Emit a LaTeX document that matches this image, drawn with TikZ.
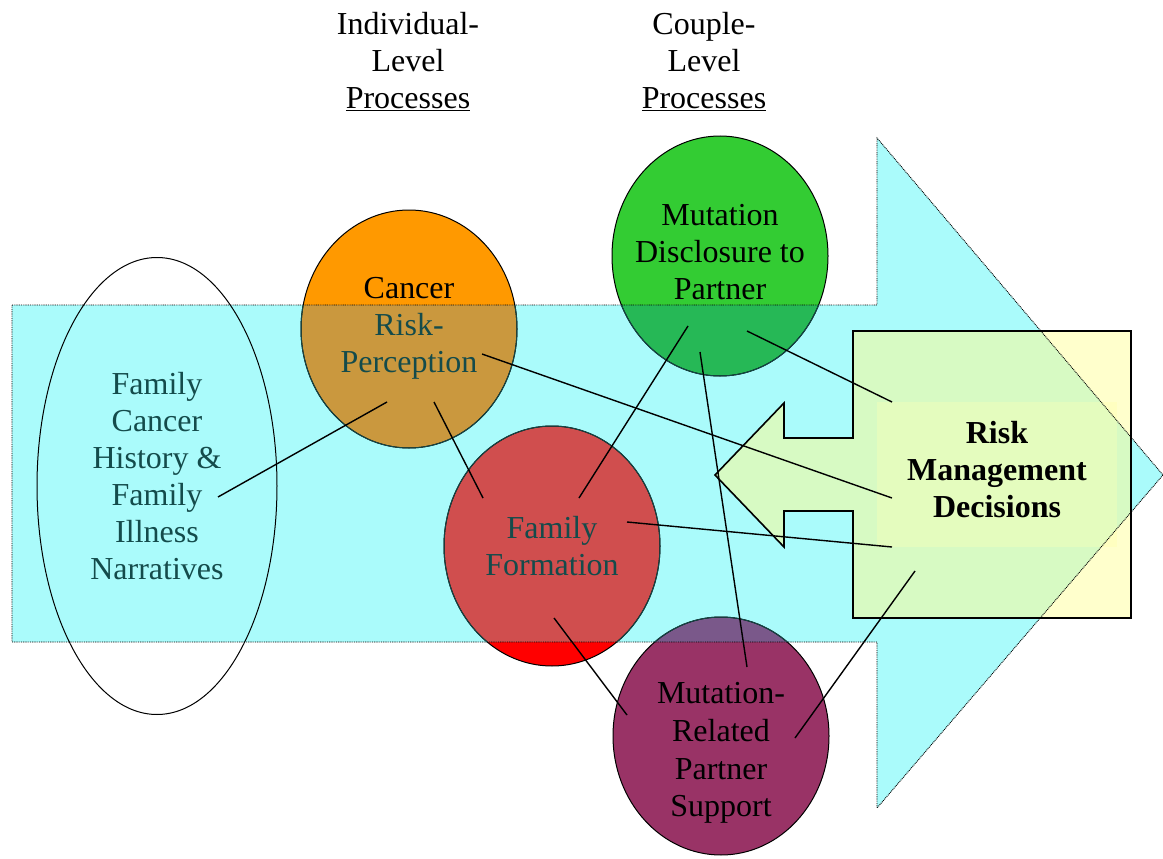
\documentclass[tikz,border=0pt]{standalone}
\usepackage{fontspec}
\setmainfont{Liberation Serif}
\usetikzlibrary{shapes.geometric,calc}
\definecolor{cyanfill}{RGB}{170,251,251}
\definecolor{orangeb}{RGB}{255,153,0}
\definecolor{orangein}{RGB}{202,152,62}
\definecolor{redb}{RGB}{255,0,0}
\definecolor{redin}{RGB}{208,78,78}
\definecolor{greenb}{RGB}{51,204,51}
\definecolor{greenin}{RGB}{38,184,86}
\definecolor{purpleb}{RGB}{153,51,102}
\definecolor{purplein}{RGB}{122,88,138}
\definecolor{yellowb}{RGB}{255,255,204}
\definecolor{yellowin}{RGB}{215,250,195}
\definecolor{yinner}{RGB}{255,255,192}
\definecolor{yinnerin}{RGB}{228,252,190}
\definecolor{tealtext}{RGB}{20,75,75}
\definecolor{tealline}{RGB}{20,70,70}
\begin{document}
\begin{tikzpicture}[x=1pt,y=-1pt,
  conn/.style={draw=black,line width=1.4pt},
  circ/.style={ellipse,inner sep=0pt,outer sep=0pt,draw=black,line width=1pt,minimum width=216pt,minimum height=238pt},
  lbl/.style={align=center,font=\fontsize{32}{37}\selectfont,inner sep=0pt},
  arrowline/.style={draw=black,line width=0.9pt,dash pattern=on 0.9pt off 0.9pt}]
\useasboundingbox (0,0) rectangle (1163,859);
\def\arrowpath{(12,305) -- (877,305) -- (877,138) -- (1163,475) -- (877,808) -- (877,642) -- (12,642) -- cycle}
\def\boxpath{(853,331) -- (1131,331) -- (1131,618) -- (853,618) -- (853,511) -- (784,511) -- (784,547) -- (715,475) -- (784,403) -- (784,438) -- (853,438) -- cycle}
\coordinate (cF) at (157,486);
\coordinate (cA) at (409,329);
\coordinate (cB) at (552,546);
\coordinate (cC) at (720,256);
\coordinate (cD) at (721,736);
% background arrow
\fill[cyanfill] \arrowpath;
% base fills
\fill[orangeb] (cA) ellipse [x radius=108pt, y radius=119pt];
\fill[redb] (cB) ellipse [x radius=108pt, y radius=120pt];
\fill[greenb] (cC) ellipse [x radius=108pt, y radius=120pt];
\fill[purpleb] (cD) ellipse [x radius=108pt, y radius=119pt];
\fill[yellowb] \boxpath;
\fill[yinner] (877,402) rectangle (1117,547);
% blended fills inside the arrow
\begin{scope}
  \clip \arrowpath;
  \fill[orangein] (cA) ellipse [x radius=108pt, y radius=119pt];
  \fill[redin] (cB) ellipse [x radius=108pt, y radius=120pt];
  \fill[greenin] (cC) ellipse [x radius=108pt, y radius=120pt];
  \fill[purplein] (cD) ellipse [x radius=108pt, y radius=119pt];
  \fill[yellowin] \boxpath;
  \fill[yinnerin] (877,402) rectangle (1117,547);
\end{scope}
\draw[arrowline] \arrowpath;
% shape nodes
\node[circ,minimum width=240pt,minimum height=457pt] (fch) at (cF) {};
\node[circ] (crp) at (cA) {};
\node[circ,minimum height=240pt] (ff) at (cB) {};
\node[circ,minimum height=240pt] (mdp) at (cC) {};
\node[circ] (mps) at (cD) {};
\begin{scope}
  \clip \arrowpath;
  \draw[tealline,line width=1pt] (cA) ellipse [x radius=108pt, y radius=119pt];
  \draw[tealline,line width=1pt] (cB) ellipse [x radius=108pt, y radius=120pt];
  \draw[tealline,line width=1pt] (cC) ellipse [x radius=108pt, y radius=120pt];
  \draw[tealline,line width=1pt] (cD) ellipse [x radius=108pt, y radius=119pt];
\end{scope}
\draw[black,line width=1.6pt] \boxpath;
% texts
\node[lbl] (hdrI) at (408,62) {Individual-\\Level\\\underline{Processes}};
\node[lbl] (hdrC) at (704,62) {Couple-\\Level\\\underline{Processes}};
\node[lbl,text=tealtext] (fchT) at (157,476) {Family\\Cancer\\History \&\\Family\\Illness\\Narratives};
\node[lbl] (crpT) at (409,328) {Cancer\\\textcolor{tealtext}{Risk-}\\\textcolor{tealtext}{Perception}};
\node[lbl,text=tealtext] (ffT) at (552,546) {Family\\Formation};
\node[lbl] (mdpT) at (720,252) {Mutation\\Disclosure to\\Partner};
\node[lbl,font=\fontsize{32}{37.7}\selectfont] (mpsT) at (721,753) {Mutation-\\Related\\Partner\\Support};
\node[lbl,font=\fontsize{32}{37}\selectfont\bfseries] (rmd) at (997,470) {Risk\\Management\\Decisions};
% connectors
\draw[conn] ($(fch.center)+(61,11)$) -- ($(crp.center)+(-22,73)$);
\draw[conn] ($(crp.center)+(73,25)$) -- ($(rmd.center)+(-105,28)$);
\draw[conn] ($(crp.center)+(25,73)$) -- ($(ff.center)+(-69,-48)$);
\draw[conn] ($(ff.center)+(27,-48)$) -- ($(mdp.center)+(-32,70)$);
\draw[conn] ($(ff.center)+(75,-24)$) -- ($(rmd.center)+(-105,77)$);
\draw[conn] ($(ff.center)+(2,72)$) -- ($(mps.center)+(-94,-21)$);
\draw[conn] ($(mdp.center)+(-20,96)$) -- ($(mps.center)+(26,-69)$);
\draw[conn] ($(mdp.center)+(27,75)$) -- ($(rmd.center)+(-105,-68)$);
\draw[conn] ($(rmd.center)+(-82,101)$) -- ($(mps.center)+(74,2)$);
\end{tikzpicture}
\end{document}
